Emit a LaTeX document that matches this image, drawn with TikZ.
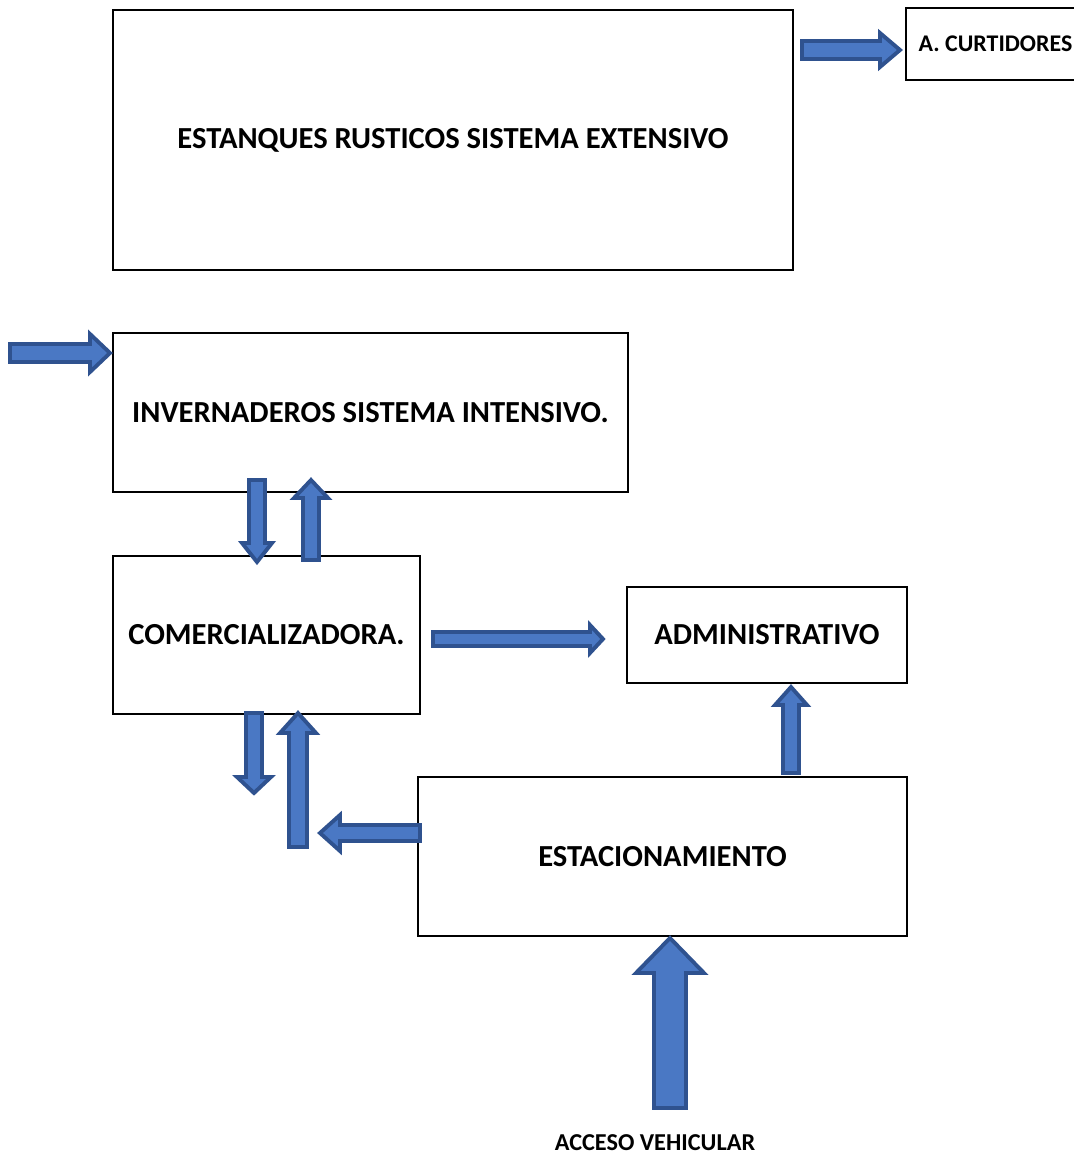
\documentclass[tikz,border=0pt]{standalone}
\usepackage{fontspec}
\setmainfont{Carlito}
\usetikzlibrary{positioning,calc}

\definecolor{arrowfill}{RGB}{74,120,196}
\definecolor{arrowline}{RGB}{47,82,143}

\tikzset{
  zone/.style={draw, line width=0.7pt, inner sep=0pt, outer sep=0pt,
    font=\fontsize{8.7}{10}\selectfont\bfseries},
  blockarrow/.style={fill=arrowfill, draw=arrowline, line width=1.1pt, line join=miter}
}

% block arrow: from, to, shaft half width, head half width, head length
\newcommand{\blockarrow}[5]{%
  \coordinate (hb) at ($(#2)!#5!(#1)$);
  \filldraw[blockarrow] ($(#1)!#3!-90:(#2)$) -- ($(hb)!#3!-90:(#2)$)
    -- ($(hb)!#4!-90:(#2)$) -- (#2) -- ($(hb)!#4!90:(#2)$)
    -- ($(hb)!#3!90:(#2)$) -- ($(#1)!#3!90:(#2)$) -- cycle;}

\begin{document}
\begin{tikzpicture}[x=0.01cm, y=-0.01cm]
\useasboundingbox (0,0) rectangle (1074,1157);

\node[zone, minimum width=6.8cm, minimum height=2.6cm] (est) at (453,140)
  {ESTANQUES RUSTICOS SISTEMA EXTENSIVO};
\node[zone, minimum width=1.74cm, minimum height=0.72cm,
  font=\fontsize{6.8}{8}\selectfont\bfseries] (cur) at (993,44) {};
\node[font=\fontsize{6.8}{8}\selectfont\bfseries, anchor=west, inner sep=0pt]
  (curtxt) at (918,44) {A. CURTIDORES};
\node[zone, minimum width=5.15cm, minimum height=1.59cm] (inv) at (370.5,412.5)
  {INVERNADEROS SISTEMA INTENSIVO.};
\node[zone, minimum width=3.07cm, minimum height=1.58cm] (com) at (266.5,635)
  {COMERCIALIZADORA.};
\node[zone, minimum width=2.8cm, minimum height=0.96cm] (adm) at (767,635)
  {ADMINISTRATIVO};
\node[zone, minimum width=4.89cm, minimum height=1.59cm] (estac) at (662.5,856.5)
  {ESTACIONAMIENTO};
\node[font=\fontsize{6.9}{8}\selectfont\bfseries] (acc) at (655,1143) {ACCESO VEHICULAR};

% arrow ends
\coordinate (a1) at (802,50);  \coordinate (b1) at (900,50);
\coordinate (a2) at (10,353);  \coordinate (b2) at (110,353);
\coordinate (a3) at (257,480); \coordinate (b3) at (257,562);
\coordinate (a4) at (311,560); \coordinate (b4) at (311,480);
\coordinate (a5) at (254,713); \coordinate (b5) at (254,793);
\coordinate (a6) at (298,847); \coordinate (b6) at (298,713);
\coordinate (a7) at (420,833); \coordinate (b7) at (320,833);
\coordinate (a8) at (433,639); \coordinate (b8) at (603,639);
\coordinate (a9) at (791,773); \coordinate (b9) at (791,687);
\coordinate (a10) at (670,1108); \coordinate (b10) at (670,938);

\blockarrow{a1}{b1}{0.09cm}{0.17cm}{0.2cm}
\blockarrow{a2}{b2}{0.09cm}{0.19cm}{0.2cm}
\blockarrow{a3}{b3}{0.08cm}{0.15cm}{0.19cm}
\blockarrow{a4}{b4}{0.08cm}{0.17cm}{0.18cm}
\blockarrow{a5}{b5}{0.08cm}{0.17cm}{0.16cm}
\blockarrow{a6}{b6}{0.09cm}{0.18cm}{0.2cm}
\blockarrow{a7}{b7}{0.08cm}{0.18cm}{0.2cm}
\blockarrow{a8}{b8}{0.07cm}{0.14cm}{0.13cm}
\blockarrow{a9}{b9}{0.08cm}{0.16cm}{0.18cm}
\blockarrow{a10}{b10}{0.16cm}{0.34cm}{0.35cm}
\end{tikzpicture}
\end{document}
